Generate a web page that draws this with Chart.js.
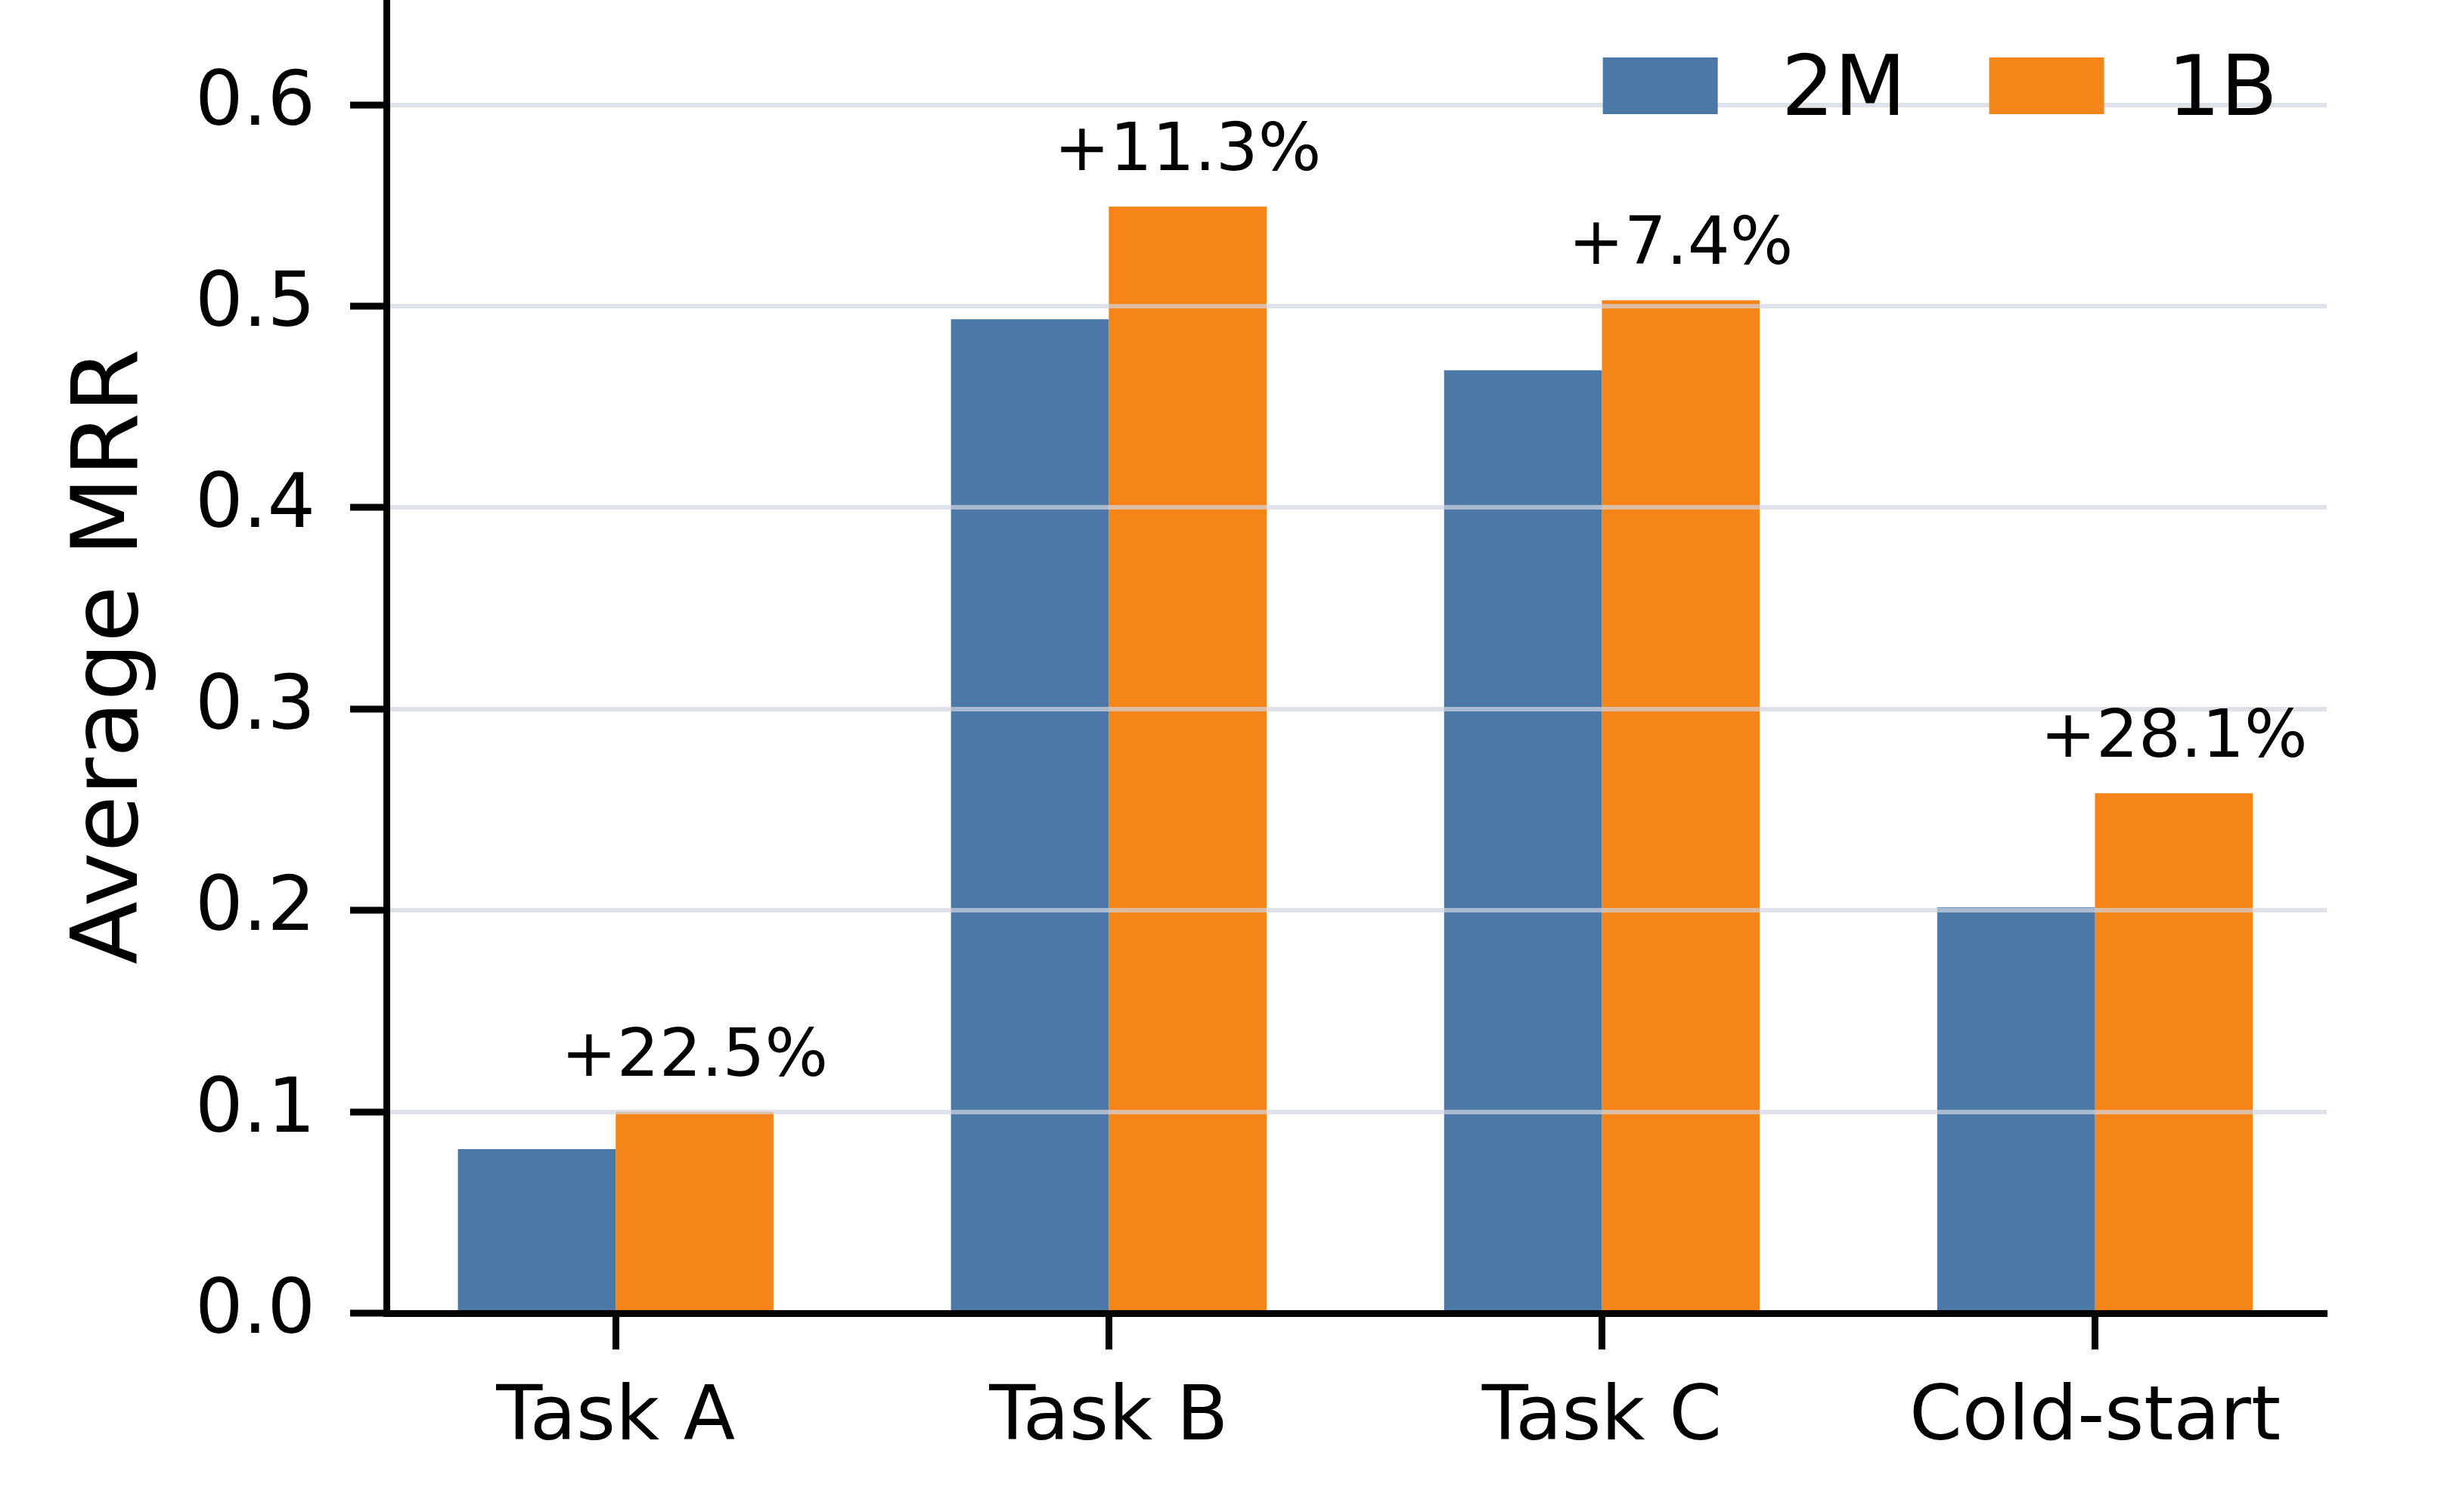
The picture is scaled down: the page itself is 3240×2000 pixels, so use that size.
<!DOCTYPE html>
<html>
<head>
<meta charset="utf-8">
<script src="https://cdn.jsdelivr.net/npm/chart.js@4.4.1/dist/chart.umd.min.js"></script>
<style>
  html, body { margin: 0; padding: 0; background: #fff; }
  #wrap { width: 3240px; height: 2000px; }
</style>
</head>
<body>
<div id="wrap"><canvas id="chart" width="3240" height="2000"></canvas></div>
<script>
// data
const categories = ['Task A', 'Task B', 'Task C', 'Cold-start'];
const seriesNames = ['2M', '1B'];
const mrr2M = [0.0815, 0.4935, 0.4682, 0.2015];
const mrr1B = [0.0999, 0.5494, 0.5029, 0.2582];
const gainLabels = ['+22.5%', '+11.3%', '+7.4%', '+28.1%'];
const yTicks = [0, 0.1, 0.2, 0.3, 0.4, 0.5, 0.6];

const colors = ['#4c78a8', '#f58518'];
const FONT = "'DejaVu Sans', sans-serif";
Chart.defaults.font.family = FONT;
Chart.defaults.color = '#000';

// "+x%" text over the 1B bars
const gainPlugin = {
  id: 'gains',
  afterDraw(chart) {
    const ctx = chart.ctx;
    const meta = chart.getDatasetMeta(1);
    ctx.save();
    ctx.font = '88px ' + FONT;
    ctx.fillStyle = '#000';
    ctx.textAlign = 'center';
    ctx.textBaseline = 'alphabetic';
    meta.data.forEach((bar, i) => {
      ctx.fillText(gainLabels[i], bar.x, bar.y - 48);
    });
    ctx.restore();
  }
};

// matplotlib style legend, upper right, no frame
const legendPlugin = {
  id: 'mplLegend',
  afterDraw(chart) {
    const ctx = chart.ctx;
    const area = chart.chartArea;
    const boxW = 152, boxH = 75, gapText = 84, gapItem = 110;
    ctx.save();
    ctx.font = '110px ' + FONT;
    const sets = chart.data.datasets;
    const widths = sets.map(d => ctx.measureText(d.label).width);
    let total = 0;
    widths.forEach((w, i) => { total += boxW + gapText + w + (i ? gapItem : 0); });
    let x = area.right - 65 - total;
    const top = area.top + 76;
    sets.forEach((d, i) => {
      ctx.fillStyle = d.backgroundColor;
      ctx.fillRect(x, top, boxW, boxH);
      x += boxW + gapText;
      ctx.fillStyle = '#000';
      ctx.textAlign = 'left';
      ctx.textBaseline = 'alphabetic';
      ctx.fillText(d.label, x, top + boxH + 1);
      x += widths[i] + gapItem;
    });
    ctx.restore();
  }
};

const gridColor = 'rgba(209,212,222,0.7)';

new Chart(document.getElementById('chart'), {
  type: 'bar',
  data: {
    datasets: [
      { label: seriesNames[0], data: categories.map((c, i) => ({ x: i, y: mrr2M[i] })), backgroundColor: colors[0] },
      { label: seriesNames[1], data: categories.map((c, i) => ({ x: i, y: mrr1B[i] })), backgroundColor: colors[1] }
    ]
  },
  options: {
    responsive: false,
    animation: false,
    devicePixelRatio: 1,
    categoryPercentage: 0.64,
    barPercentage: 1,
    layout: { padding: { left: 0, top: 0, right: 163, bottom: 0 } },
    plugins: { legend: { display: false }, tooltip: { enabled: false } },
    scales: {
      x: {
        type: 'linear',
        min: -0.465,
        max: 3.47,
        offset: false,
        afterBuildTicks: s => { s.ticks = categories.map((c, i) => ({ value: i })); },
        afterFit: s => { s.height = 263; s.paddingLeft = 0; s.paddingRight = 0; },
        grid: { offset: false, drawOnChartArea: false, drawTicks: true, tickLength: 48, tickWidth: 9, tickColor: '#000', z: 1 },
        border: { color: '#000', width: 9, z: 2 },
        ticks: {
          callback: v => categories[v],
          color: '#000',
          font: { size: 100 },
          padding: 33,
          maxRotation: 0,
          autoSkip: false
        }
      },
      y: {
        min: 0,
        max: 0.652,
        afterBuildTicks: s => { s.ticks = yTicks.map(v => ({ value: v })); },
        afterFit: s => { s.width = 511; s.paddingTop = 0; s.paddingBottom = 0; },
        grid: {
          color: c => (c.tick && c.tick.value === 0 ? 'rgba(0,0,0,0)' : gridColor),
          lineWidth: 6,
          tickLength: 48,
          tickWidth: 9,
          tickColor: '#000',
          z: 1
        },
        border: { color: '#000', width: 9, z: 2 },
        ticks: {
          callback: v => v.toFixed(1),
          color: '#000',
          font: { size: 100 },
          padding: 46
        },
        title: {
          display: true,
          text: 'Average MRR',
          color: '#000',
          font: { size: 122 },
          padding: { top: 76, bottom: 0 }
        }
      }
    }
  },
  plugins: [gainPlugin, legendPlugin]
});
</script>
</body>
</html>
